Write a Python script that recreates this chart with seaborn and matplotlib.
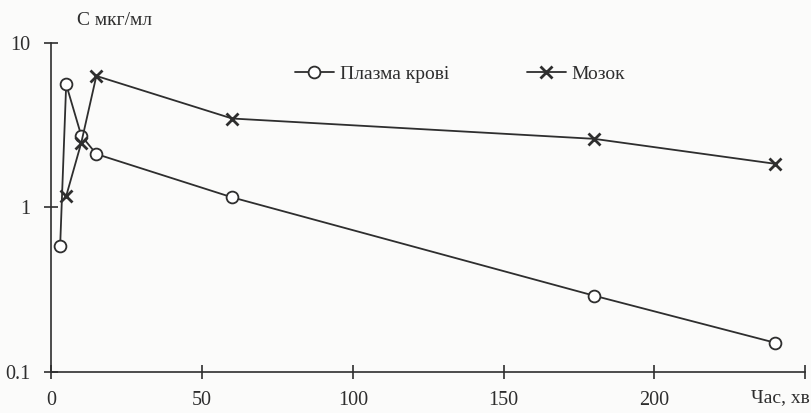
# Concentration vs time, plasma and brain, log scale

# %% import modules
import matplotlib.pyplot as plt
import seaborn as sns

# %% data
plasma_time = [3, 5, 10, 15, 60, 180, 240]
plasma_conc = [0.58, 5.6, 2.73, 2.11, 1.15, 0.29, 0.15]
brain_time = [5, 10, 15, 60, 180, 240]
brain_conc = [1.17, 2.47, 6.3, 3.47, 2.61, 1.84]
x_ticks = [0, 50, 100, 150, 200]
y_ticks = [0.1, 1, 10]
y_tick_labels = ["0.1", "1", "10"]

# %% style
sns.set_style("ticks")
plt.rcParams['font.family'] = ['Liberation Serif', 'DejaVu Serif']
ink = "#2e2e2e"

# %% create figure
fig = plt.figure(figsize=(8.11, 4.13), dpi=100, facecolor="#fbfbfa")
ax = fig.add_axes([0.063, 0.10, 0.93, 0.796])
ax.set_facecolor("#fbfbfa")

# plasma line with open circles
sns.lineplot(x=plasma_time, y=plasma_conc, ax=ax, color=ink,
             linewidth=1.3, marker="o", markersize=8.5,
             markerfacecolor="white", markeredgecolor=ink,
             markeredgewidth=1.3, label="Плазма крові")

# brain line with x markers
sns.lineplot(x=brain_time, y=brain_conc, ax=ax, color=ink,
             linewidth=1.3, marker="x", markersize=9,
             markeredgecolor=ink, markeredgewidth=2.0,
             label="Мозок")

# %% axes
ax.set_yscale("log")
ax.set_ylim(0.1, 10)
ax.set_xlim(0, 250)
ax.set_yticks(y_ticks)
ax.set_yticklabels(y_tick_labels)
ax.minorticks_off()
ax.set_xticks(x_ticks + [250])
ax.set_xticklabels([str(t) for t in x_ticks] + [""])
ax.tick_params(direction="inout", length=10, width=1.2, color=ink,
               labelsize=14.5, labelcolor=ink)
ax.tick_params(axis="x", pad=9)
ax.tick_params(axis="y", pad=10)
sns.despine(ax=ax)
for side in ["left", "bottom"]:
    ax.spines[side].set_color(ink)
    ax.spines[side].set_linewidth(1.2)

ax.set_xlabel("")
ax.set_ylabel("")
fig.text(0.141, 0.95, "С мкг/мл", fontsize=14, color=ink,
         ha="center", va="center")
fig.text(0.962, 0.038, "Час, хв", fontsize=14, color=ink,
         ha="center", va="center")

# legend on top
ax.legend(loc="center left", bbox_to_anchor=(0.30, 0.905), ncol=2,
          frameon=False, fontsize=14, columnspacing=4.0,
          handlelength=2.0, handletextpad=0.3, labelcolor=ink)

fig.savefig("out.png", dpi=100, facecolor=fig.get_facecolor())
